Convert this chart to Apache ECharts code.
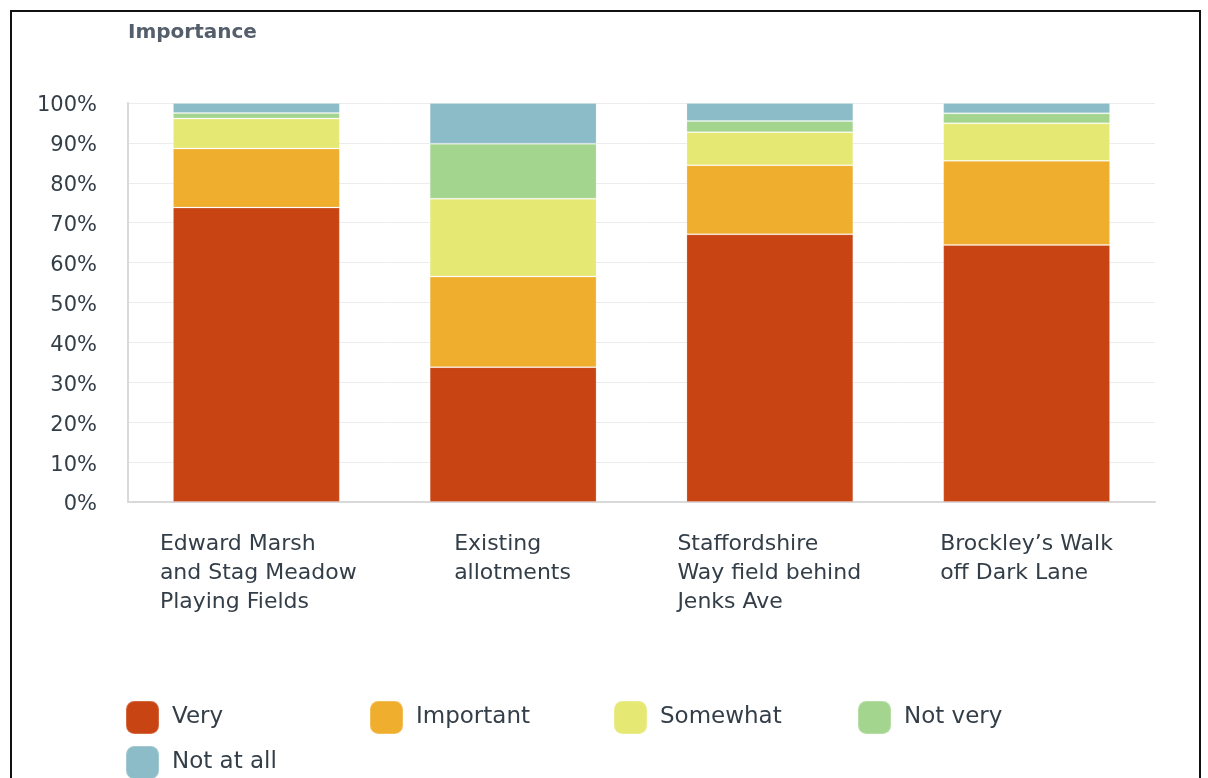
<!DOCTYPE html>
<html>
<head>
<meta charset="utf-8">
<script src="https://cdn.jsdelivr.net/npm/echarts@6/dist/echarts.min.js"></script>
<style>html,body{margin:0;padding:0;background:#fff;}#c{width:1208px;height:778px;}</style>
</head>
<body>
<div id="c"></div>
<script>
var categories = [
  "Edward Marsh\nand Stag Meadow\nPlaying Fields",
  "Existing\nallotments",
  "Staffordshire\nWay field behind\nJenks Ave",
  "Brockley\u2019s Walk\noff Dark Lane"
];
var seriesNames = ["Very", "Important", "Somewhat", "Not very", "Not at all"];
var very      = [73.8, 33.8, 67.1, 64.4];
var important = [14.8, 22.7, 17.3, 21.1];
var somewhat  = [7.5, 19.5, 8.3, 9.4];
var notVery   = [1.4, 13.8, 2.8, 2.5];
var notAtAll  = [2.5, 10.2, 4.5, 2.6];
var yTicks = [0, 10, 20, 30, 40, 50, 60, 70, 80, 90, 100];

var colors = ["#C84413", "#F0AE2E", "#E6E874", "#A4D58E", "#8BBCC7"];
var values = [very, important, somewhat, notVery, notAtAll];
var fontFam = "'DejaVu Sans', sans-serif";
var textColor = '#333e48';
var labelWidths = [193, 118, 185, 173];

var chart = echarts.init(document.getElementById('c'), null, {renderer: 'canvas'});
var series = seriesNames.map(function (n, i) {
  return {
    name: n, type: 'bar', stack: 'total', barWidth: '65%',
    data: values[i],
    itemStyle: {color: colors[i], borderColor: 'rgba(255,255,255,0.2)', borderWidth: 1},
    emphasis: {disabled: true}
  };
});
var rich = {};
labelWidths.forEach(function (w, i) {
  rich['c' + i] = {width: w, align: 'left', fontSize: 22, lineHeight: 29, color: textColor, fontFamily: fontFam};
});
var legends = seriesNames.map(function (n, i) {
  return {
    data: [n], left: 120 + 244 * (i % 4), top: 695 + 45 * Math.floor(i / 4),
    icon: 'roundRect', itemWidth: 33, itemHeight: 33,
    textStyle: {fontSize: 23, color: textColor, fontFamily: fontFam, padding: [0, 0, 0, 8]},
    selectedMode: false
  };
});
chart.setOption({
  animation: false,
  title: {
    text: 'Importance', left: 123, top: 18,
    textStyle: {fontSize: 20, fontWeight: 'bold', color: '#545f6b', fontFamily: fontFam}
  },
  graphic: [{
    type: 'rect', shape: {x: 11, y: 11, width: 1189, height: 800},
    style: {fill: 'none', stroke: '#111', lineWidth: 2}, silent: true
  }],
  grid: {left: 128, top: 103, right: 53, bottom: 276, containLabel: false},
  legend: legends,
  xAxis: {
    type: 'category', data: categories,
    axisLine: {lineStyle: {color: '#d9d9d9', width: 2}},
    axisTick: {show: false},
    axisLabel: {
      interval: 0, margin: 28, align: 'center',
      formatter: function (v, idx) {
        return v.split('\n').map(function (l) { return '{c' + idx + '|' + l + '}'; }).join('\n');
      },
      rich: rich
    }
  },
  yAxis: {
    type: 'value', min: 0, max: 100, interval: 10,
    axisLine: {show: true, lineStyle: {color: '#d9d9d9', width: 2}},
    axisTick: {show: false},
    splitLine: {lineStyle: {color: '#ececec', width: 1}},
    axisLabel: {
      margin: 31, fontSize: 21, color: textColor, fontFamily: fontFam,
      formatter: function (v) { return yTicks.indexOf(v) >= 0 ? '{p|' + v + '%}' : ''; },
      rich: {p: {fontSize: 21, color: textColor, fontFamily: fontFam, padding: [6, 0, 0, 0]}}
    }
  },
  series: series
});
</script>
</body>
</html>
